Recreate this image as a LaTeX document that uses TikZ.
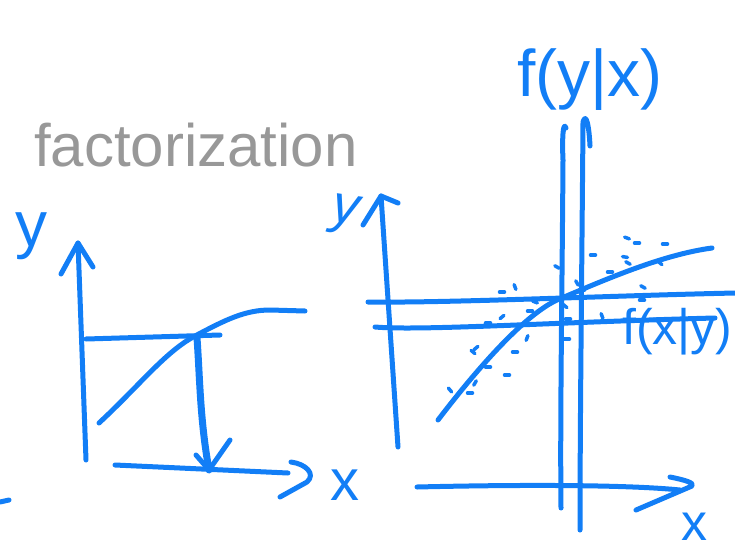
\documentclass[tikz,border=0pt]{standalone}
\usepackage{fontspec}
\setmainfont{Liberation Sans}
\definecolor{pen}{RGB}{18,126,246}
\definecolor{pencil}{RGB}{152,152,152}
\begin{document}
\begin{tikzpicture}[x=1pt,y=-1pt,
  ink/.style={draw=pen,line width=5pt,line cap=round,line join=round},
  bold ink/.style={draw=pen,line width=7pt,line cap=round,line join=round},
  speck/.style={draw=pen,line width=3.5pt,line cap=round},
  lbl/.style={text=pen,inner sep=0pt}]
\useasboundingbox (0,0) rectangle (735,551);

% title
\node[text=pencil,inner sep=0pt,anchor=base west,font=\fontsize{60}{70}\selectfont] (title) at (34,166) {factorization};

% ---------- left plot ----------
\coordinate (ly0) at (86,460);
\coordinate (lytip) at (78,243);
\draw[ink] (ly0) -- (lytip);
\draw[ink] (61,274) -- (lytip) -- (93,267);
\node[lbl,font=\fontsize{64}{70}\selectfont] (ylab1) at (31,236) {y};

\coordinate (lx0) at (115,465);
\coordinate (lxend) at (288,473);
\draw[ink] (lx0) -- (lxend);
\draw[ink] (291,462) .. controls (306,464) and (316,474) .. (307,482) -- (280,497);
\node[lbl,font=\fontsize{58}{70}\selectfont] (xlab1) at (345,485) {x};

\coordinate (lh0) at (86,339);
\coordinate (lh1) at (220,335);
\draw[ink] (lh0) -- (lh1);

\draw[ink] (99,423) .. controls (140,385) and (165,352) .. (195,336)
  .. controls (225,320) and (245,310) .. (270,310) -- (305,311);

\coordinate (va) at (197,338);
\coordinate (vb) at (209,470);
\draw[bold ink] (va) .. controls (200,380) and (200,420) .. (vb);
\draw[ink] (196,455) -- (vb) -- (230,440);

\draw[ink] (0,502) -- (9,500);

% ---------- right plot ----------
\coordinate (ry0) at (398,447);
\coordinate (rytip) at (381,196);
\draw[ink] (ry0) -- (rytip);
\draw[ink] (363,225) -- (rytip) -- (398,203);
\node[lbl,font=\itshape\fontsize{54}{70}\selectfont,rotate=-8] (ylab2) at (345,215) {y};

\coordinate (rx0) at (417,487);
\coordinate (rxend) at (680,490);
\draw[ink] (rx0) .. controls (500,485) and (620,484) .. (rxend);
\draw[ink] (670,477) .. controls (685,480) and (695,483) .. (692,486) -- (636,510);
\node[lbl,font=\fontsize{52}{70}\selectfont] (xlab2) at (694,527) {x};

% vertical lines
\draw[ink] (566,128) .. controls (563,120) and (562,140) .. (563,160) .. controls (562,300) and (560,420) .. (561,508);
\draw[ink] (590,146) .. controls (589,125) and (586,112) .. (583,122) .. controls (582,250) and (580,420) .. (580,530);

% horizontal lines
\draw[ink] (368,302) .. controls (450,303) and (600,296) .. (735,293);
\draw[ink] (375,327) .. controls (420,331) and (560,322) .. (715,318);

% curve
\draw[ink] (438,420) .. controls (480,365) and (525,315) .. (557,300)
  .. controls (600,282) and (660,255) .. (712,248);

% scattered points
\foreach \px/\py/\pa in {627/238/20, 637/243/0, 665/244/0, 593/255/0, 625/257/10, 628/263/30,
  610/272/0, 660/263/40, 557/267/30, 577/283/60, 582/290/0, 643/287/30, 502/292/0,
  515/287/70, 535/302/20, 530/311/0, 642/300/0, 565/306/40, 568/319/0, 602/316/70,
  502/317/-40, 488/323/0, 527/338/-70, 567/339/0, 476/348/-40, 473/352/40, 515/352/0,
  488/367/0, 507/375/0, 475/383/-60, 450/390/50, 470/393/0}
  \draw[speck] (\px,\py) ++(\pa:-2.5) -- ++(\pa:5);

\node[lbl,font=\fontsize{66}{70}\selectfont] (fyx) at (590,80) {f(y|x)};
\node[lbl,font=\fontsize{50}{60}\selectfont,anchor=west] (fxy) at (622,332) {f(x|y)};
\end{tikzpicture}
\end{document}
